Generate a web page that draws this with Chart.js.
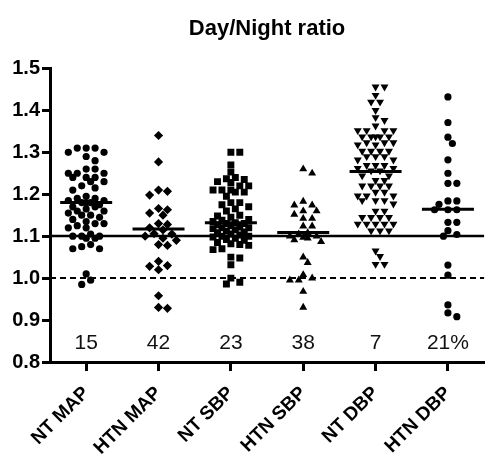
<!DOCTYPE html>
<html>
<head>
<meta charset="utf-8">
<script src="https://cdn.jsdelivr.net/npm/chart.js@4.4.1/dist/chart.umd.min.js"></script>
<style>
  html, body { margin: 0; padding: 0; background: #fff; }
  #wrap { width: 489px; height: 459px; }
</style>
</head>
<body>
<div id="wrap"><canvas id="graphRatio" width="489" height="459"></canvas></div>
<script>
// ===== données =====
const categories = ["NT MAP", "HTN MAP", "NT SBP", "HTN SBP", "NT DBP", "HTN DBP"];

const ntMap = [1.31, 1.31, 1.31, 1.30, 1.30, 1.29, 1.28,
  1.26, 1.26, 1.25, 1.25, 1.25, 1.24, 1.24, 1.24, 1.23, 1.23,
  1.22, 1.215, 1.21,
  1.195, 1.19, 1.19, 1.185, 1.185, 1.18, 1.18, 1.18, 1.175, 1.17, 1.17,
  1.165, 1.16, 1.16, 1.155, 1.15, 1.15, 1.145, 1.14,
  1.135, 1.13, 1.13, 1.125, 1.12, 1.12,
  1.105, 1.10, 1.10, 1.10, 1.095, 1.095,
  1.08, 1.075, 1.07, 1.07,
  1.01, 0.995, 0.985];
const htnMap = [1.34, 1.277, 1.21, 1.207, 1.198, 1.166, 1.163, 1.155, 1.15, 1.13, 1.128,
  1.12, 1.115, 1.106, 1.105, 1.10, 1.095, 1.09, 1.08, 1.078, 1.04, 1.03, 1.028, 1.02,
  0.958, 0.93, 0.928];
const ntSbp = [1.30, 1.30, 1.27, 1.253, 1.24, 1.237, 1.235, 1.23, 1.228, 1.22, 1.22, 1.21, 1.21,
  1.21, 1.205, 1.205, 1.195, 1.18, 1.18, 1.175, 1.17, 1.165, 1.16, 1.15, 1.148, 1.145, 1.14,
  1.138, 1.135, 1.132, 1.13, 1.13, 1.127, 1.125, 1.122, 1.12, 1.12, 1.118, 1.115, 1.112, 1.11,
  1.108, 1.105, 1.103, 1.10, 1.10, 1.098, 1.095, 1.092, 1.09, 1.085, 1.082, 1.08, 1.078, 1.07,
  1.068, 1.05, 1.048, 1.032, 1.0, 0.99, 0.986];
const htnSbp = [1.26, 1.25, 1.183, 1.174, 1.174, 1.16, 1.16, 1.152, 1.142, 1.142, 1.124, 1.124,
  1.108, 1.105, 1.10, 1.10, 1.097, 1.095, 1.091, 1.087, 1.05, 1.037, 1.008, 1.0, 0.995, 0.995,
  0.968, 0.93];
const ntDbp = [1.456, 1.456, 1.436, 1.42, 1.42, 1.40, 1.383, 1.376, 1.363,
  1.352, 1.352, 1.352, 1.352, 1.337, 1.337, 1.337, 1.337, 1.337, 1.323, 1.323, 1.323, 1.318, 1.318,
  1.303, 1.303, 1.303, 1.303, 1.29, 1.29, 1.29, 1.282, 1.282, 1.269, 1.269, 1.269, 1.262, 1.262,
  1.256, 1.256, 1.244, 1.244, 1.233, 1.233, 1.22, 1.22, 1.22, 1.22, 1.205, 1.205,
  1.196, 1.196, 1.196, 1.185, 1.185, 1.185, 1.177, 1.16, 1.16,
  1.145, 1.145, 1.145, 1.145, 1.129, 1.129, 1.129, 1.129, 1.129, 1.113, 1.113, 1.113,
  1.065, 1.052, 1.033, 1.033];
const htnDbp = [1.432, 1.371, 1.336, 1.321, 1.282, 1.25, 1.226, 1.226, 1.184, 1.184, 1.176,
  1.163, 1.163, 1.163, 1.133, 1.133, 1.113, 1.104, 1.10, 1.031, 1.007, 0.936, 0.917, 0.908];

const medians = [1.18, 1.117, 1.132, 1.109, 1.254, 1.164];
const pctLabels = ["15", "42", "23", "38", "7", "21%"];
const pctY = 0.845;
const refSolid = 1.1;
const refDashed = 1.0;
const yMin = 0.8, yMax = 1.5, yStep = 0.1;

// ===== disposition en essaim (comme GraphPad) =====
function swarm(values, center) {
  const pxX = 73, pxY = 418, d = 7;
  const placed = [];
  values.slice().sort((a, b) => b - a).forEach((v) => {
    let best = null, bestDist = -1;
    for (let k = 0; k <= 8; k++) {
      const off = (k % 2 ? 1 : -1) * Math.ceil(k / 2) * 4.5;
      let minDist = Infinity;
      placed.forEach((p) => {
        minDist = Math.min(minDist, Math.hypot(p.off - off, (p.v - v) * pxY));
      });
      if (minDist >= d) { best = off; break; }
      if (minDist > bestDist + 0.5) { bestDist = minDist; best = off; }
    }
    placed.push({ v: v, off: best });
  });
  return placed.map((p) => ({ x: center + p.off / pxX, y: p.v }));
}

const series = [ntMap, htnMap, ntSbp, htnSbp, ntDbp, htnDbp];
const styles = [
  { pointStyle: "circle", radius: 3.6, rotation: 0 },
  { pointStyle: "rectRot", radius: 4.6, rotation: 0 },
  { pointStyle: "rect", radius: 4.9, rotation: 0 },
  { pointStyle: "triangle", radius: 4.6, rotation: 0 },
  { pointStyle: "triangle", radius: 4.6, rotation: 180 },
  { pointStyle: "circle", radius: 3.6, rotation: 0 },
];

const FONT = "Arial, 'Liberation Sans', sans-serif";

// lignes de référence, médianes et pourcentages
const overlay = {
  id: "overlay",
  beforeDatasetsDraw(chart) {
    const { ctx, chartArea, scales } = chart;
    ctx.save();
    ctx.strokeStyle = "#000";
    ctx.lineWidth = 2.5;
    let y = Math.round(scales.y.getPixelForValue(refSolid));
    ctx.beginPath();
    ctx.moveTo(chartArea.left, y);
    ctx.lineTo(chartArea.right, y);
    ctx.stroke();
    ctx.lineWidth = 2;
    ctx.setLineDash([6, 4]);
    y = Math.round(scales.y.getPixelForValue(refDashed));
    ctx.beginPath();
    ctx.moveTo(chartArea.left, y);
    ctx.lineTo(chartArea.right, y);
    ctx.stroke();
    ctx.restore();
  },
  afterDatasetsDraw(chart) {
    const { ctx, scales } = chart;
    ctx.save();
    ctx.strokeStyle = "#000";
    ctx.lineWidth = 3;
    medians.forEach((m, i) => {
      const cx = scales.x.getPixelForValue(i + 1);
      const y = scales.y.getPixelForValue(m);
      ctx.beginPath();
      ctx.moveTo(cx - 26, y);
      ctx.lineTo(cx + 26, y);
      ctx.stroke();
    });
    ctx.fillStyle = "#111";
    ctx.font = "21px " + FONT;
    ctx.textAlign = "center";
    ctx.textBaseline = "middle";
    pctLabels.forEach((t, i) => {
      ctx.fillText(t, scales.x.getPixelForValue(i + 1), scales.y.getPixelForValue(pctY));
    });
    ctx.restore();
  },
};

const ctx = document.getElementById("graphRatio");
new Chart(ctx, {
  type: "scatter",
  data: {
    datasets: series.map((vals, i) => ({
      label: categories[i],
      data: swarm(vals, i + 1),
      pointStyle: styles[i].pointStyle,
      pointRadius: styles[i].radius,
      pointRotation: styles[i].rotation,
      backgroundColor: "#000",
      borderColor: "#000",
      borderWidth: 0,
    })),
  },
  options: {
    responsive: false,
    animation: false,
    layout: { padding: { left: 0, right: 0, top: 0, bottom: 0 } },
    plugins: {
      legend: { display: false },
      tooltip: { enabled: false },
      title: {
        display: true,
        text: "Day/Night ratio",
        color: "#000",
        fullSize: false,
        font: { family: FONT, size: 22, weight: "bold" },
        padding: { top: 16, bottom: 26 },
      },
    },
    scales: {
      x: {
        type: "linear",
        min: 0.5,
        max: 6.5,
        afterBuildTicks: (scale) => {
          scale.ticks = categories.map((c, i) => ({ value: i + 1 }));
        },
        afterFit: (scale) => { scale.height = 97; },
        border: { display: true, color: "#000", width: 3 },
        grid: { drawOnChartArea: false, drawTicks: true, tickLength: 9, tickWidth: 3, tickColor: "#000" },
        ticks: {
          autoSkip: false,
          minRotation: 45,
          maxRotation: 45,
          padding: 11,
          color: "#000",
          font: { family: FONT, size: 19, weight: "bold" },
          callback: (v) => categories[Math.round(v) - 1],
        },
      },
      y: {
        min: yMin,
        max: yMax,
        afterFit: (scale) => { scale.width = 50; },
        border: { display: true, color: "#000", width: 3 },
        grid: { drawOnChartArea: false, drawTicks: true, tickLength: 8, tickWidth: 3, tickColor: "#000" },
        ticks: {
          stepSize: yStep,
          padding: 2,
          color: "#000",
          font: { family: FONT, size: 20, weight: "bold" },
          callback: (v) => v.toFixed(1),
        },
      },
    },
  },
  plugins: [overlay],
});
</script>
</body>
</html>
